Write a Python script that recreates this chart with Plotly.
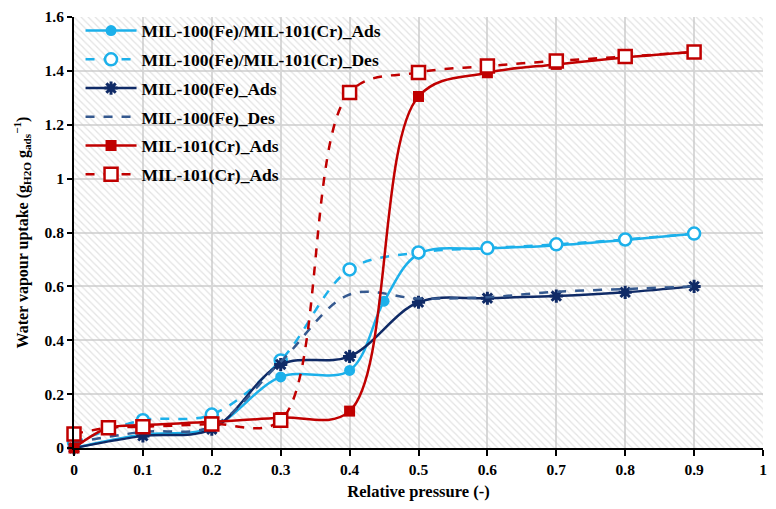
import plotly.graph_objects as go

# ---------------- data ----------------
x_mix_ads = [0, 0.1, 0.2, 0.3, 0.4, 0.45, 0.5, 0.6, 0.7, 0.8, 0.9]
y_mix_ads = [0.0, 0.05, 0.075, 0.264, 0.288, 0.545, 0.72, 0.74, 0.752, 0.772, 0.795]

x_mix_des = [0, 0.1, 0.2, 0.3, 0.4, 0.5, 0.6, 0.7, 0.8, 0.9]
y_mix_des = [0.02, 0.103, 0.124, 0.325, 0.663, 0.726, 0.742, 0.756, 0.774, 0.796]

x_fe_ads = [0, 0.1, 0.2, 0.3, 0.4, 0.5, 0.6, 0.7, 0.8, 0.9]
y_fe_ads = [0.0, 0.045, 0.07, 0.31, 0.34, 0.541, 0.556, 0.564, 0.578, 0.6]

x_fe_des = [0, 0.1, 0.2, 0.3, 0.4, 0.5, 0.6, 0.7, 0.8, 0.9]
y_fe_des = [0.02, 0.06, 0.08, 0.32, 0.57, 0.555, 0.56, 0.58, 0.59, 0.6]

x_cr_ads = [0, 0.05, 0.1, 0.2, 0.3, 0.4, 0.5, 0.6, 0.7, 0.8, 0.9]
y_cr_ads = [0.0, 0.075, 0.085, 0.097, 0.113, 0.137, 1.305, 1.393, 1.424, 1.45, 1.47]

x_cr_des = [0, 0.05, 0.1, 0.2, 0.3, 0.4, 0.5, 0.6, 0.7, 0.8, 0.9]
y_cr_des = [0.052, 0.075, 0.079, 0.089, 0.103, 1.32, 1.394, 1.418, 1.437, 1.453, 1.47]

names = [
    "MIL-100(Fe)/MIL-101(Cr)_Ads",
    "MIL-100(Fe)/MIL-101(Cr)_Des",
    "MIL-100(Fe)_Ads",
    "MIL-100(Fe)_Des",
    "MIL-101(Cr)_Ads",
    "MIL-101(Cr)_Ads",
]

x_range = [0, 1]
y_range = [0, 1.6]
x_ticks = [0, 0.1, 0.2, 0.3, 0.4, 0.5, 0.6, 0.7, 0.8, 0.9, 1]
y_ticks = [0, 0.2, 0.4, 0.6, 0.8, 1, 1.2, 1.4, 1.6]

LIGHT = "#1cb0ea"
DARK = "#0f2a66"
DARK2 = "#35598f"
RED = "#c00000"
FONT = "Liberation Serif"

fig = go.Figure()

# hatched plot background
fig.add_trace(go.Scatter(
    x=[x_range[0], x_range[1], x_range[1], x_range[0], x_range[0]],
    y=[y_range[0], y_range[0], y_range[1], y_range[1], y_range[0]],
    mode="none", fill="toself", fillcolor="rgba(0,0,0,0)",
    fillpattern=dict(shape="\\", fgcolor="#c8c8c8", bgcolor="rgba(255,255,255,0)",
                     size=5, solidity=0.25, fillmode="overlay"),
    showlegend=False, hoverinfo="skip"))

series = [
    (x_mix_ads, y_mix_ads, LIGHT, "solid", dict(symbol="circle", size=11, color=LIGHT)),
    (x_mix_des, y_mix_des, LIGHT, "dash", dict(symbol="circle", size=12, color="white",
                                               line=dict(width=2.5, color=LIGHT))),
    (x_fe_ads, y_fe_ads, DARK, "solid", dict(symbol="asterisk-open", size=11, color=DARK,
                                             line=dict(width=3, color=DARK))),
    (x_fe_des, y_fe_des, DARK2, "dash", None),
    (x_cr_ads, y_cr_ads, RED, "solid", dict(symbol="square", size=11, color=RED)),
    (x_cr_des, y_cr_des, RED, "dash", dict(symbol="square", size=13, color="white",
                                           line=dict(width=2.5, color=RED))),
]

for i, (xs, ys, col, dash, mk) in enumerate(series):
    fig.add_trace(go.Scatter(
        x=xs, y=ys, name=names[i],
        mode="lines+markers" if mk else "lines",
        line=dict(color=col, width=2.5, dash=dash, shape="spline", smoothing=1.0),
        marker=mk if mk else None,
        cliponaxis=False,
        legendgroup=f"g{i}",
    ))

# the page body adds an 8px margin, so the figure is sized/offset to compensate
fig.update_layout(
    width=760, height=493,
    margin=dict(l=66, r=5, t=9, b=53, autoexpand=False),
    paper_bgcolor="white", plot_bgcolor="white",
    font=dict(family=FONT, size=15, color="black"),
    legend=dict(x=0.0095, y=1.01, xanchor="left", yanchor="top",
                bgcolor="rgba(0,0,0,0)", font=dict(family=FONT, size=17.5, color="black", weight="bold"),
                itemwidth=51, tracegroupgap=3, traceorder="grouped"),
    xaxis=dict(range=x_range, tickvals=x_ticks, ticktext=[f"{v:g}" for v in x_ticks],
               showgrid=True, gridcolor="#d9d9d9", gridwidth=2,
               showline=True, linecolor="black", linewidth=2,
               ticks="outside", ticklen=6, tickwidth=1.5, tickcolor="black",
               tickfont=dict(family=FONT, size=15.5, weight="bold"),
               ticklabeloverflow="allow",
               zeroline=False, automargin=False,
               title=dict(text="<b>Relative pressure (-)</b>", font=dict(family=FONT, size=16.5), standoff=11)),
    yaxis=dict(range=y_range, tickvals=y_ticks, ticktext=[f"{v:g}" for v in y_ticks],
               showgrid=True, gridcolor="#d9d9d9", gridwidth=2,
               showline=True, linecolor="black", linewidth=2,
               ticks="outside", ticklen=5, tickwidth=1.5, tickcolor="black",
               tickfont=dict(family=FONT, size=15.5, weight="bold"),
               ticklabeloverflow="allow",
               zeroline=False, automargin=False,
               title=dict(text="<b>Water vapour uptake (g<sub>H2O</sub> g<sub>ads</sub><sup>−1</sup>)</b>",
                          font=dict(family=FONT, size=16), standoff=12)),
)

fig.write_html("out.html")
